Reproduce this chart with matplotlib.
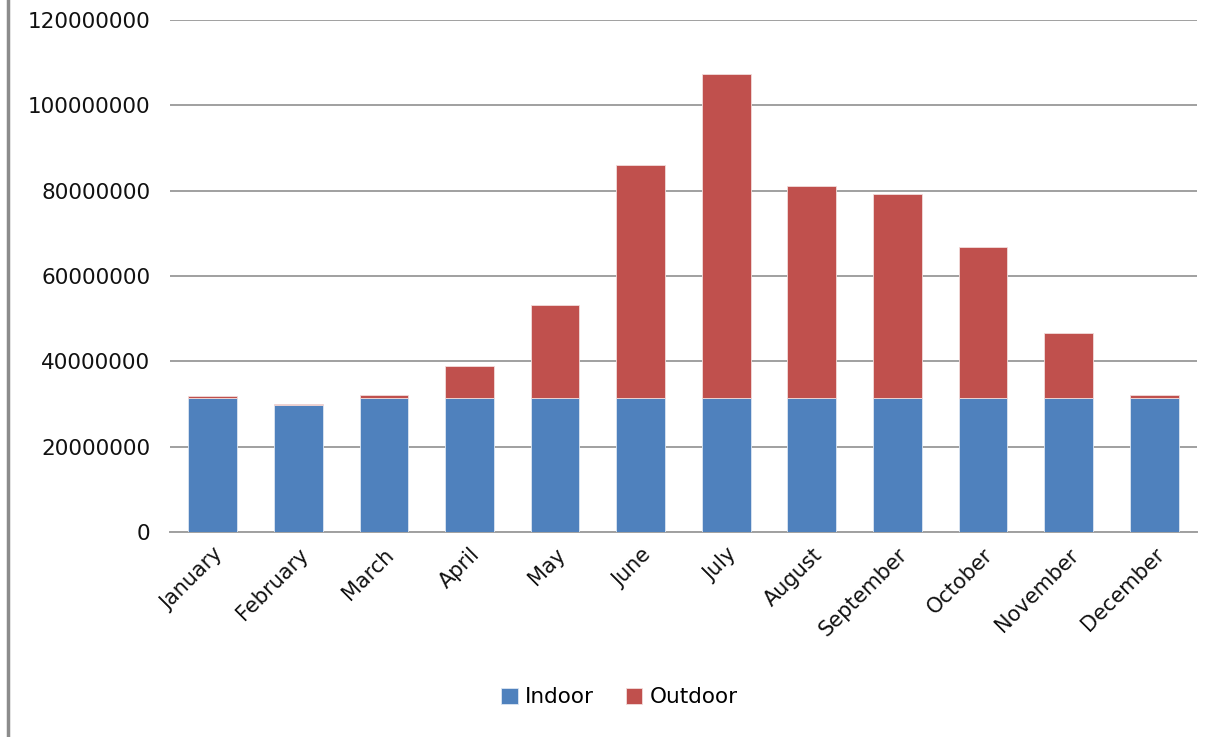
import numpy as np
import matplotlib.pyplot as plt
from matplotlib.lines import Line2D

months = ['January', 'February', 'March', 'April', 'May', 'June',
          'July', 'August', 'September', 'October', 'November', 'December']
indoor = [31.5e6, 29.7e6, 31.4e6, 31.4e6, 31.4e6, 31.4e6,
          31.4e6, 31.4e6, 31.4e6, 31.4e6, 31.4e6, 31.4e6]
outdoor = [0.4e6, 0.3e6, 0.7e6, 7.5e6, 21.7e6, 54.6e6,
           75.9e6, 49.8e6, 47.7e6, 35.5e6, 15.3e6, 0.6e6]

blue = '#4F81BD'
red = '#C0504D'

fig = plt.figure(figsize=(12.2, 7.37), dpi=100)
ax = fig.add_axes([0.1393, 0.2782, 0.8418, 0.6947])

x = np.arange(len(months))
ax.bar(x, indoor, width=0.57, color=blue, edgecolor='#dce6f2', linewidth=0.6, label='Indoor', zorder=3)
ax.bar(x, outdoor, width=0.57, bottom=indoor, color=red, edgecolor='#f2dcdb', linewidth=0.6,
       label='Outdoor', zorder=3)

ax.set_xlim(-0.5, len(months) - 0.5)
ax.set_ylim(0, 120e6)
yt = np.arange(0, 120e6 + 1, 20e6)
ax.set_yticks(yt)
ax.set_yticklabels([str(int(v)) for v in yt], fontsize=15.5, color='#111111')
ax.yaxis.grid(True, color='#a0a0a0', linewidth=1.4, zorder=0)
ax.tick_params(axis='y', length=0, pad=14)
ax.tick_params(axis='x', length=0, pad=9)
ax.set_xticks(x)
ax.set_xticklabels(months, rotation=45, ha='right', rotation_mode='anchor', fontsize=15, color='#111111')

for side in ['top', 'right', 'left']:
    ax.spines[side].set_visible(False)
ax.spines['bottom'].set_color('#a0a0a0')
ax.spines['bottom'].set_linewidth(1.4)

leg = fig.legend(loc='center', bbox_to_anchor=(0.508, 0.054), ncol=2, frameon=False, fontsize=15.5,
                 handlelength=0.75, handleheight=0.75, handletextpad=0.35, columnspacing=1.5)

# thin frame line at the left edge
fig.add_artist(Line2D([7.5 / 1220, 7.5 / 1220], [0, 1], color='#8c8c8c', linewidth=2.5))

fig.savefig('out.png', dpi=100)
